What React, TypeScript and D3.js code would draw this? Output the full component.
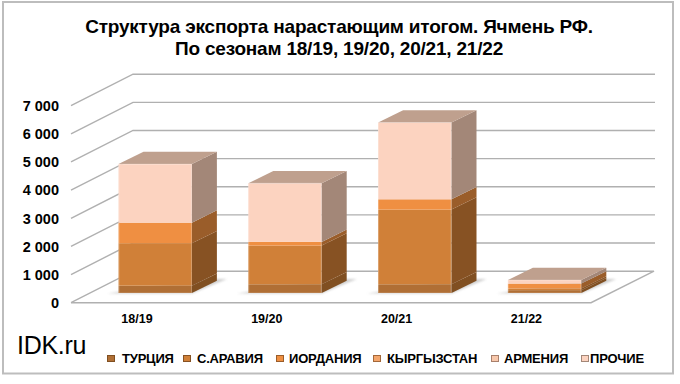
import React from "react";
import * as d3 from "d3";

const seasons = ["18/19", "19/20", "20/21", "21/22"];
const seriesNames = ["ТУРЦИЯ", "С.АРАВИЯ", "ИОРДАНИЯ", "КЫРГЫЗСТАН", "АРМЕНИЯ", "ПРОЧИЕ"];
const turkey = [260, 310, 310, 100];
const saudi = [1510, 1375, 2655, 60];
const jordan = [730, 130, 365, 175];
const kyrgyz = [0, 0, 0, 0];
const armenia = [0, 0, 0, 0];
const other = [2080, 2085, 2730, 125];
const yTicks = [0, 1000, 2000, 3000, 4000, 5000, 6000, 7000];
const tickLabels = ["0", "1 000", "2 000", "3 000", "4 000", "5 000", "6 000", "7 000"];

const seriesValues = [turkey, saudi, jordan, kyrgyz, armenia, other];
const front = ["#b06f35", "#d08038", "#ef8f42", "#f4a66c", "#f8c8ac", "#fcd3c0"];
const sideC = ["#804f21", "#875223", "#9a5d2a", "#a4683a", "#a8806c", "#a38778"];
const topC = ["#94673e", "#a0703f", "#b4804f", "#b98c66", "#bd9e8a", "#bfa08e"];
const legendX = [107, 183, 276, 373, 491, 581];
const legendTextX = [122, 197, 289, 387, 504, 590];

const DX = 62, DY = 31.5, BDX = 25, BDY = 12.3;
const y = d3.scaleLinear().domain([0, 7000]).range([302.7, 105.7]);
const baseDy = -9.7;

const sans = "'Liberation Sans', Arial, sans-serif";

export default function App() {
  const stack = d3.stack<number>().keys(d3.range(6) as any).value((i: number, k: any) => seriesValues[k][i]);
  const layers = stack(d3.range(seasons.length));
  const line = (pts: [number, number][]) => d3.line()(pts) as string;
  const bars: React.ReactNode[] = [];
  const barPos = (s: string) => {
    const c = 155.2 + seasons.indexOf(s) * 129.8;
    return [c - 36.7, c + 36.7];
  };
  seasons.forEach((s, si) => {
    const [x0, x1] = barPos(s);
    const yb = (v: number) => y(v) + baseDy;
    bars.push(
      <path key={"sh" + si} d={line([[x0 - 11, 293.5], [x1, 293.5], [x1 + 35, 279], [x1 + 12, 279]])} fill="#b0b0b0" opacity={0.6} filter="url(#blur)" />
    );
    layers.forEach((l, k) => {
      const [v0, v1] = l[si];
      if (v1 - v0 <= 0) return;
      bars.push(
        <g key={s + k}>
          <rect x={x0} y={yb(v1)} width={x1 - x0} height={yb(v0) - yb(v1)} fill={front[k]} />
          <path d={line([[x1, yb(v0)], [x1 + BDX, yb(v0) - BDY], [x1 + BDX, yb(v1) - BDY], [x1, yb(v1)]])} fill={sideC[k]} />
        </g>
      );
    });
    const total = layers[5][si][1];
    bars.push(
      <path key={"top" + si} d={line([[x0, yb(total)], [x0 + BDX, yb(total) - BDY], [x1 + BDX, yb(total) - BDY], [x1, yb(total)]])} fill={topC[5]} />
    );
    bars.push(
      <rect key={"hl" + si} x={x0 + 0.5} y={yb(total)} width={x1 - x0 - 1} height={yb(0) - yb(total)} fill="none" stroke="#ffffff" strokeOpacity={0.22} />
    );
  });

  return (
    <svg width={680} height={384} style={{ position: "absolute", left: 0, top: 0, background: "#fff" }}>
      <defs>
        <filter id="blur" x="-20%" y="-50%" width="140%" height="200%"><feGaussianBlur stdDeviation="1.2" /></filter>
      </defs>
      <rect x={3} y={2} width={670} height={371.5} fill="#fff" stroke="#bdbdbd" strokeWidth={2} />
      <text x={339} y={33} textAnchor="middle" fontFamily={sans} fontWeight="bold" fontSize={19} letterSpacing={-0.2} fill="#000">Структура экспорта нарастающим итогом. Ячмень РФ.</text>
      <text x={339} y={54.5} textAnchor="middle" fontFamily={sans} fontWeight="bold" fontSize={19} letterSpacing={-0.2} fill="#000">По сезонам 18/19, 19/20, 20/21, 21/22</text>

      {yTicks.map((t, i) => (
        <g key={t}>
          {t > 0 && <path d={line([[71, y(t)], [71 + DX, y(t) - DY], [655, y(t) - DY]])} fill="none" stroke="#b0b0b0" strokeWidth={1.4} />}
          <text x={59} y={y(t) + 5.3} textAnchor="end" fontFamily={sans} fontWeight="bold" fontSize={14.5} fill="#000">{tickLabels[i]}</text>
        </g>
      ))}
      <path d={line([[71, y(0)], [133, y(0) - DY], [654, y(0) - DY], [591, y(0)], [71, y(0)]])} fill="none" stroke="#b0b0b0" strokeWidth={1.4} />
      {bars}
      {seasons.map((s) => (
        <text key={s} x={barPos(s)[0] + 18.5} y={323} textAnchor="middle" fontFamily={sans} fontWeight="bold" fontSize={12.5} fill="#000">{s}</text>
      ))}
      <text x={17} y={354} fontFamily={sans} fontSize={25} letterSpacing={-0.3} fill="#000">IDK.ru</text>
      {seriesNames.map((n, i) => (
        <g key={n}>
          <rect x={legendX[i] + 0.5} y={355.5} width={7} height={6} fill={front[i]} stroke={sideC[i]} strokeWidth={1} />
          <text x={legendTextX[i]} y={363} fontFamily={sans} fontWeight="bold" fontSize={13} letterSpacing={-0.2} fill="#000">{n}</text>
        </g>
      ))}
    </svg>
  );
}
